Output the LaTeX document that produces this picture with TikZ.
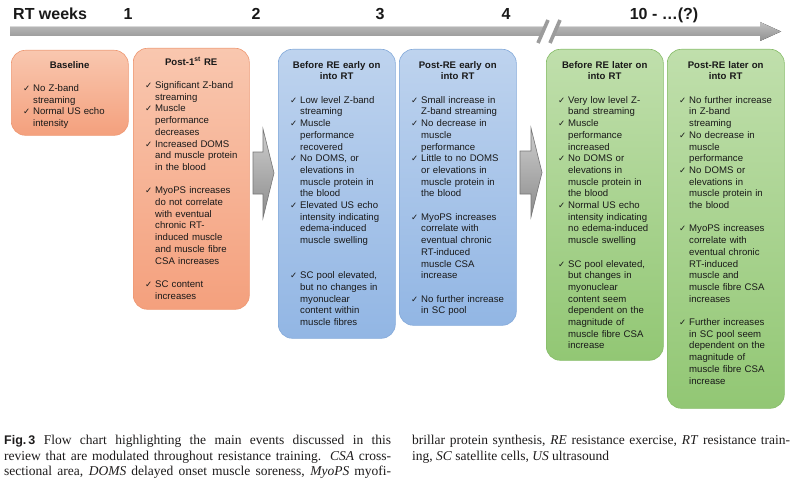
\documentclass[tikz,border=0pt]{standalone}
\usepackage{fontspec}
\setmainfont{Liberation Sans}
\newfontfamily\seriffont{Liberation Serif}
\newfontfamily\ckfont{DejaVu Sans}
\definecolor{orT}{RGB}{249,199,175}
\definecolor{orB}{RGB}{244,160,125}
\definecolor{orD}{RGB}{238,152,115}
\definecolor{blT}{RGB}{190,211,238}
\definecolor{blB}{RGB}{146,182,228}
\definecolor{blD}{RGB}{132,170,218}
\definecolor{grT}{RGB}{192,223,172}
\definecolor{grB}{RGB}{146,199,116}
\definecolor{grD}{RGB}{134,188,104}
\definecolor{barT}{RGB}{192,192,192}
\definecolor{barB}{RGB}{145,145,145}
\definecolor{arT}{RGB}{205,205,205}
\definecolor{arB}{RGB}{140,140,140}
\definecolor{arD}{RGB}{118,118,118}
\definecolor{txtc}{RGB}{25,25,25}
\definecolor{capc}{RGB}{30,28,28}
\newcommand{\ckitem}[1]{\par\hangindent=10pt\relax\hangafter=1\relax\noindent\makebox[10pt][l]{\ckfont\fontsize{8.5}{8.5}\selectfont ✓}#1\par}
\newcommand{\gapline}{\vspace{11.7pt}}
\newcommand{\boxstart}{\parindent=0pt\relax\parskip=0pt\relax\strut}
\newcommand{\boxhead}[1]{{\centering\bfseries #1\par}\vspace{11.7pt}\leftskip=12pt\relax\rightskip=0pt plus 1fil\relax}
\newcommand{\capstart}{\parindent=0pt\relax\hyphenpenalty=10000\relax\strut}
\tikzset{
  rbox/.style={rectangle, rounded corners=14pt, inner sep=0pt, anchor=north west, line width=0.6pt, minimum width=117pt},
  orbox/.style={rbox, draw=orD, top color=orT, bottom color=orB},
  blbox/.style={rbox, draw=blD, top color=blT, bottom color=blB},
  grbox/.style={rbox, draw=grD, top color=grT, bottom color=grB},
  boxtext/.style={inner sep=0pt, anchor=north west, text width=117pt, yshift=-10.8pt, text=txtc,
    font=\fontsize{9.6}{11.7}\selectfont},
  toplab/.style={inner sep=0pt, anchor=base, font=\fontsize{16}{18}\selectfont\bfseries, text=txtc},
  blockarrow/.style={draw=arD, line width=0.6pt, top color=arT, bottom color=arB},
  captext/.style={inner sep=0pt, anchor=north west, text=capc, align=justify,
    font=\fontsize{13.5}{15.5}\selectfont\seriffont}
}
\begin{document}
\begin{tikzpicture}[x=1pt,y=-1pt]
\useasboundingbox (0,0) rectangle (800,487);
\fill[white] (0,0) rectangle (800,487);

% timeline
\fill[top color=barT, bottom color=barB] (10,27) -- (760,27) -- (760,22) -- (781,31.5) -- (760,41) -- (760,36) -- (10,36) -- cycle;
\fill[white] (539.5,39) -- (546.5,24) -- (558.5,24) -- (551.5,39) -- cycle;
\draw[barB!90!white, line width=3.6pt] (538,43) -- (548,20);
\draw[barB!90!white, line width=3.6pt] (550,43) -- (560,20);

\node[toplab, anchor=base west] (rtw) at (13,20) {RT weeks};
\node[toplab] (w1) at (128,20) {1};
\node[toplab] (w2) at (256,20) {2};
\node[toplab] (w3) at (380,20) {3};
\node[toplab] (w4) at (506,20) {4};
\node[toplab] (w10) at (664,20) {10 - …(?)};

% boxes
\node[orbox, minimum height=85pt] (A) at (11,50) {};
\node[orbox, minimum width=116pt, minimum height=261pt] (B) at (133,48) {};
\node[blbox, minimum height=289pt] (C) at (278,49) {};
\node[blbox, minimum height=276pt] (D) at (399,49) {};
\node[grbox, minimum height=311pt] (E) at (546,49) {};
\node[grbox, minimum height=359pt] (F) at (667,49) {};

% block arrows
\path[blockarrow] (253,152) -- (263,152) -- (263,129) -- (274,173) -- (263,218) -- (263,194) -- (253,194) -- cycle;
\path[blockarrow] (520,151) -- (531,151) -- (531,128) -- (542,172.5) -- (531,217) -- (531,194) -- (520,194) -- cycle;

% texts
\node[boxtext, yshift=1pt] (tA) at (A.north west) {\boxstart\boxhead{Baseline}
\ckitem{No Z-band\newline streaming}
\ckitem{Normal US echo\newline intensity}};

\node[boxtext, text width=116pt, yshift=2pt] (tB) at (B.north west) {\boxstart\boxhead{Post-1\textsuperscript{st} RE}
\ckitem{Significant Z-band\newline streaming}
\ckitem{Muscle\newline performance\newline decreases}
\ckitem{Increased DOMS\newline and muscle protein\newline in the blood}
\gapline
\ckitem{MyoPS increases\newline do not correlate\newline with eventual\newline chronic RT-\newline induced muscle\newline and muscle fibre\newline CSA increases}
\gapline
\ckitem{SC content\newline increases}};

\node[boxtext] (tC) at (C.north west) {\boxstart\boxhead{Before RE early on\par into RT}
\ckitem{Low level Z-band\newline streaming}
\ckitem{Muscle\newline performance\newline recovered}
\ckitem{No DOMS, or\newline elevations in\newline muscle protein in\newline the blood}
\ckitem{Elevated US echo\newline intensity indicating\newline edema-induced\newline muscle swelling}
\gapline\gapline
\ckitem{SC pool elevated,\newline but no changes in\newline myonuclear\newline content within\newline muscle fibres}};

\node[boxtext] (tD) at (D.north west) {\boxstart\boxhead{Post-RE early on\par into RT}
\ckitem{Small increase in\newline Z-band streaming}
\ckitem{No decrease in\newline muscle\newline performance}
\ckitem{Little to no DOMS\newline or elevations in\newline muscle protein in\newline the blood}
\gapline
\ckitem{MyoPS increases\newline correlate with\newline eventual chronic\newline RT-induced\newline muscle CSA\newline increase}
\gapline
\ckitem{No further increase\newline in SC pool}};

\node[boxtext] (tE) at (E.north west) {\boxstart\boxhead{Before RE later on\par into RT}
\ckitem{Very low level Z-\newline band streaming}
\ckitem{Muscle\newline performance\newline increased}
\ckitem{No DOMS or\newline elevations in\newline muscle protein in\newline the blood}
\ckitem{Normal US echo\newline intensity indicating\newline no edema-induced\newline muscle swelling}
\gapline
\ckitem{SC pool elevated,\newline but changes in\newline myonuclear\newline content seem\newline dependent on the\newline magnitude of\newline muscle fibre CSA\newline increase}};

\node[boxtext] (tF) at (F.north west) {\boxstart\boxhead{Post-RE later on\par into RT}
\ckitem{No further increase\newline in Z-band\newline streaming}
\ckitem{No decrease in\newline muscle\newline performance}
\ckitem{No DOMS or\newline elevations in\newline muscle protein in\newline the blood}
\gapline
\ckitem{MyoPS increases\newline correlate with\newline eventual chronic\newline RT-induced\newline muscle and\newline muscle fibre CSA\newline increases}
\gapline
\ckitem{Further increases\newline in SC pool seem\newline dependent on the\newline magnitude of\newline muscle fibre CSA\newline increase}};

% caption
\node[captext, text width=387pt] (cap1) at (4,433.5) {\capstart\parfillskip=0pt\relax{\fontsize{12.5}{15.5}\selectfont\rmfamily\bfseries Fig.\,3} Flow chart highlighting the main events discussed in this\linebreak review that are modulated throughout resistance training. \textit{CSA} cross-\linebreak sectional area, \textit{DOMS} delayed onset muscle soreness, \textit{MyoPS} myofi-\par};
\node[captext, text width=378pt] (cap2) at (412,433.5) {\capstart brillar protein synthesis, \textit{RE} resistance exercise, \textit{RT} resistance train-\linebreak ing, \textit{SC} satellite cells, \textit{US} ultrasound\par};
\end{tikzpicture}
\end{document}
